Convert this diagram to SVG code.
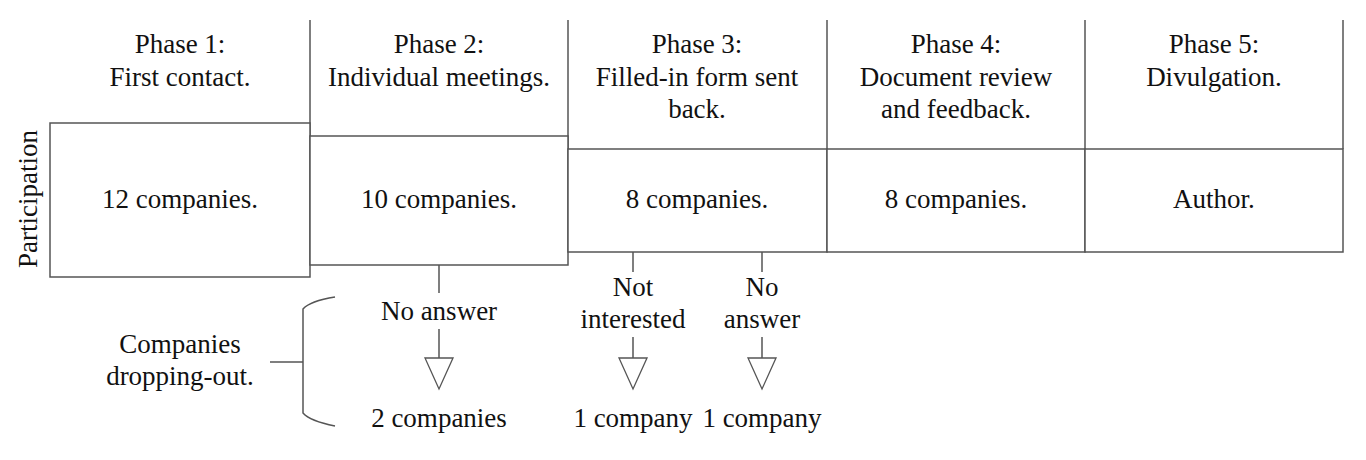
<svg xmlns="http://www.w3.org/2000/svg" width="1366" height="460" viewBox="0 0 1366 460">
  <style>
    .ln { stroke: #555; stroke-width: 1.5; fill: none; }
    .box { stroke: #555; stroke-width: 1.5; fill: #fff; }
    text { font-family: "Times New Roman", Tinos, "Liberation Serif", "Noto Serif", "DejaVu Serif", Times, serif; font-size: 27px; fill: #111; text-anchor: middle; }
  </style>
  <defs>
    <marker id="tri" viewBox="-1 -16 34 32" refX="0" refY="0" markerWidth="34" markerHeight="32" markerUnits="userSpaceOnUse" orient="auto">
      <path d="M0,-14 L31,0 L0,14 Z" fill="#fff" stroke="#555" stroke-width="1.3"/>
    </marker>
  </defs>
  <rect width="1366" height="460" fill="#fff"/>

  <g id="header-lines">
    <line class="ln" x1="310" y1="20" x2="310" y2="136"/>
    <line class="ln" x1="568" y1="20" x2="568" y2="149"/>
    <line class="ln" x1="827" y1="20" x2="827" y2="149"/>
    <line class="ln" x1="1085" y1="20" x2="1085" y2="149"/>
    <line class="ln" x1="1343" y1="20" x2="1343" y2="149"/>
  </g>

  <g id="phase1">
    <text x="180" y="53">Phase 1:</text>
    <text x="180" y="86">First contact.</text>
    <rect class="box" x="50" y="123" width="260" height="154"/>
    <text x="180" y="208">12 companies.</text>
  </g>

  <g id="phase2">
    <text x="439" y="53">Phase 2:</text>
    <text x="439" y="86">Individual meetings.</text>
    <rect class="box" x="310" y="136" width="258" height="129"/>
    <text x="439" y="208">10 companies.</text>
  </g>

  <g id="phase3">
    <text x="697" y="53">Phase 3:</text>
    <text x="697" y="86">Filled-in form sent</text>
    <text x="697" y="118">back.</text>
    <rect class="box" x="568" y="149" width="259" height="103"/>
    <text x="697" y="208">8 companies.</text>
  </g>

  <g id="phase4">
    <text x="956" y="53">Phase 4:</text>
    <text x="956" y="86">Document review</text>
    <text x="956" y="118">and feedback.</text>
    <rect class="box" x="827" y="149" width="258" height="103"/>
    <text x="956" y="208">8 companies.</text>
  </g>

  <g id="phase5">
    <text x="1214" y="53">Phase 5:</text>
    <text x="1214" y="86">Divulgation.</text>
    <rect class="box" x="1085" y="149" width="258" height="103"/>
    <text x="1214" y="208">Author.</text>
  </g>

  <g id="participation-label">
    <text transform="translate(37,199) rotate(-90)">Participation</text>
  </g>

  <g id="dropouts-label">
    <text x="180" y="353">Companies</text>
    <text x="180" y="385">dropping-out.</text>
    <path class="ln" d="M335,297 Q310,301 303,309 L303,413 Q310,421 335,426"/>
    <line class="ln" x1="270" y1="362" x2="303" y2="362"/>
  </g>

  <g id="drop-p2">
    <text x="439" y="320">No answer</text>
    <text x="439" y="427">2 companies</text>
  </g>
  <g id="drop-p3a">
    <text x="633" y="296">Not</text>
    <text x="633" y="328">interested</text>
    <text x="633" y="427">1 company</text>
  </g>
  <g id="drop-p3b">
    <text x="762" y="296">No</text>
    <text x="762" y="328">answer</text>
    <text x="762" y="427">1 company</text>
  </g>

  <g id="connectors">
    <line class="ln" x1="439" y1="265" x2="439" y2="293"/>
    <line class="ln" x1="439" y1="329" x2="439" y2="358" marker-end="url(#tri)"/>
    <line class="ln" x1="633" y1="252" x2="633" y2="272"/>
    <line class="ln" x1="633" y1="337" x2="633" y2="358" marker-end="url(#tri)"/>
    <line class="ln" x1="762" y1="252" x2="762" y2="272"/>
    <line class="ln" x1="762" y1="337" x2="762" y2="358" marker-end="url(#tri)"/>
  </g>
</svg>
